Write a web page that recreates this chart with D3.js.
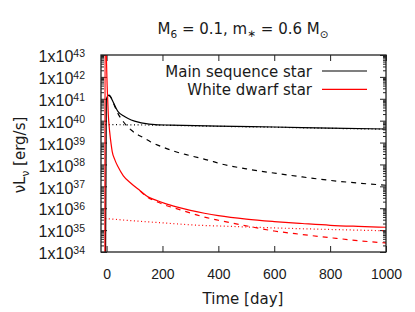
<!DOCTYPE html>
<html>
<head>
<meta charset="utf-8">
<script src="https://cdn.jsdelivr.net/npm/d3@7"></script>
<style>
  body { margin: 0; background: #fff; }
  svg { display: block; font-family: "DejaVu Sans", sans-serif; }
</style>
</head>
<body>
<div id="chart"></div>
<script>
// Time axis (days) and luminosity ticks (erg/s)
const timeTicks = [0, 200, 400, 600, 800, 1000];
const lumExponents = [34, 35, 36, 37, 38, 39, 40, 41, 42, 43];

// Main sequence star: [time (day), nuL_nu (erg/s)]
const msTotal = [
  [-4, 1e33], [-1, 8.71e40], [4, 1.35e41], [9, 1.48e41], [15, 1.2e41],
  [23, 7.24e40], [41, 2.57e40], [60, 1.66e40], [77, 1.26e40], [100, 9.55e39],
  [124, 7.94e39], [184, 6.46e39], [230, 6.31e39], [400, 5.62e39],
  [600, 5.13e39], [800, 4.57e39], [1000, 4.17e39]
];
const msDashed = [
  [9, 1.48e41], [15, 1.17e41], [23, 7.0e40], [41, 2.1e40], [60, 8.91e39],
  [88, 3.72e39], [136, 1.55e39], [158, 1.07e39], [208, 5.75e38], [240, 4.07e38],
  [300, 2.51e38], [363, 1.58e38], [405, 1.1e38], [500, 6.31e37], [608, 3.89e37],
  [700, 2.69e37], [823, 1.74e37], [900, 1.41e37], [1000, 1.12e37]
];
const msDotted = [
  [-5, 6.61e39], [200, 6.17e39], [400, 5.5e39], [600, 5.01e39],
  [800, 4.47e39], [1000, 4.07e39]
];

// White dwarf star
const wdTotal = [
  [-6, 1e33], [-5.5, 1e45], [-2, 3.16e43], [2, 3.98e41], [6, 2.0e40],
  [11, 3.16e39], [16, 8.91e38], [20, 3.98e38], [30, 1.58e38], [41, 7.76e37],
  [60, 3.02e37], [88, 1.35e37], [120, 6.31e36], [148, 3.31e36], [180, 2.24e36],
  [208, 1.66e36], [250, 1.15e36], [300, 7.94e35], [350, 5.89e35], [400, 4.57e35],
  [500, 3.16e35], [600, 2.45e35], [700, 2.0e35], [800, 1.66e35], [900, 1.48e35],
  [1000, 1.35e35]
];
const wdDashed = [
  [120, 6.07e36], [148, 3.07e36], [180, 2.0e36], [208, 1.41e36], [250, 9.55e35],
  [300, 6.03e35], [340, 4.27e35], [400, 2.82e35], [490, 1.66e35], [600, 9.12e34],
  [700, 6.31e34], [810, 4.37e34], [900, 3.31e34], [1000, 2.57e34]
];
const wdDotted = [
  [-5, 3.4e35], [100, 2.63e35], [200, 2.14e35], [330, 1.66e35], [400, 1.55e35],
  [600, 1.26e35], [800, 1.07e35], [1000, 9.33e34]
];

const legendItems = [
  { label: "Main sequence star", color: "#000000" },
  { label: "White dwarf star", color: "#ff0000" }
];

(function () {
  const W = 415, H = 312;
  const plot = { left: 101, right: 386, top: 55, bottom: 252 };
  const textColor = "#1a1a1a";

  const svg = d3.select("#chart").append("svg")
    .attr("width", W)
    .attr("height", H);

  const x = d3.scaleLinear().domain([-20, 1000]).range([plot.left, plot.right]);
  const y = d3.scaleLog().domain([1e34, 1e43]).range([plot.bottom, plot.top]);

  const majorY = lumExponents.map(e => Math.pow(10, e));
  const minorY = y.ticks().filter(v => {
    const l = Math.log10(v);
    return Math.abs(l - Math.round(l)) > 1e-6;
  });

  // clip for curves
  svg.append("clipPath").attr("id", "plot-clip")
    .append("rect")
    .attr("x", plot.left).attr("y", plot.top)
    .attr("width", plot.right - plot.left)
    .attr("height", plot.bottom - plot.top);

  // ---- Axes (ticks point inward, like gnuplot) ----
  const axisColor = "#222";

  function styleAxis(g) {
    g.select(".domain").remove();
    g.selectAll(".tick line").attr("stroke", axisColor).attr("stroke-width", 1);
  }

  // minor y ticks, left and right
  svg.append("g")
    .attr("transform", `translate(${plot.left},0)`)
    .call(d3.axisLeft(y).tickValues(minorY).tickSize(-3).tickFormat(""))
    .call(styleAxis);
  svg.append("g")
    .attr("transform", `translate(${plot.right},0)`)
    .call(d3.axisRight(y).tickValues(minorY).tickSize(-3).tickFormat(""))
    .call(styleAxis);

  // major y ticks, left (with labels) and right
  const gYLeft = svg.append("g")
    .attr("transform", `translate(${plot.left},0)`)
    .call(d3.axisLeft(y).tickValues(majorY).tickSize(-6).tickPadding(16))
    .call(styleAxis);
  svg.append("g")
    .attr("transform", `translate(${plot.right},0)`)
    .call(d3.axisRight(y).tickValues(majorY).tickSize(-6).tickFormat(""))
    .call(styleAxis);

  gYLeft.selectAll(".tick text")
    .attr("fill", textColor)
    .style("font-size", "16px")
    .attr("dy", "0.42em")
    .text("1x10")
    .append("tspan")
    .attr("dy", "-0.5em")
    .style("font-size", "10.5px")
    .text(d => Math.round(Math.log10(d)));

  // x ticks, bottom (with labels) and top
  const gXBottom = svg.append("g")
    .attr("transform", `translate(0,${plot.bottom})`)
    .call(d3.axisBottom(x).tickValues(timeTicks).tickSize(-6).tickPadding(17)
      .tickFormat(d3.format("d")))
    .call(styleAxis);
  svg.append("g")
    .attr("transform", `translate(0,${plot.top})`)
    .call(d3.axisTop(x).tickValues(timeTicks).tickSize(-6).tickFormat(""))
    .call(styleAxis);

  gXBottom.selectAll(".tick text")
    .attr("fill", textColor)
    .style("font-size", "14px");

  // ---- Curves ----
  const line = d3.line()
    .x(d => x(d[0]))
    .y(d => y(d[1]))
    .curve(d3.curveMonotoneX);

  const curves = svg.append("g").attr("clip-path", "url(#plot-clip)");

  const series = [
    { data: msDotted, color: "#000", dash: "1,2.6" },
    { data: msDashed, color: "#000", dash: "5,5" },
    { data: wdDotted, color: "#ff0000", dash: "1,2.6" },
    { data: wdDashed, color: "#ff0000", dash: "5,5" },
    { data: msTotal, color: "#000", dash: null },
    { data: wdTotal, color: "#ff0000", dash: null }
  ];

  curves.selectAll("path")
    .data(series)
    .enter()
    .append("path")
    .attr("fill", "none")
    .attr("stroke", d => d.color)
    .attr("stroke-width", 1.2)
    .attr("stroke-dasharray", d => d.dash)
    .attr("d", d => line(d.data));

  // frame
  svg.append("rect")
    .attr("x", plot.left).attr("y", plot.top)
    .attr("width", plot.right - plot.left)
    .attr("height", plot.bottom - plot.top)
    .attr("fill", "none")
    .attr("stroke", axisColor)
    .attr("stroke-width", 1.3);

  // ---- Legend ----
  const legend = svg.append("g").attr("class", "legend");
  const rows = legend.selectAll("g")
    .data(legendItems)
    .enter()
    .append("g")
    .attr("transform", (d, i) => `translate(0,${71 + i * 18.3})`);

  rows.append("text")
    .attr("x", 312)
    .attr("y", 5.5)
    .attr("text-anchor", "end")
    .style("font-size", "15px")
    .attr("fill", textColor)
    .text(d => d.label);

  rows.append("line")
    .attr("x1", 322).attr("x2", 367)
    .attr("y1", 0).attr("y2", 0)
    .attr("stroke", d => d.color)
    .attr("stroke-width", 1.2);

  // ---- Title ----
  const title = svg.append("text")
    .attr("x", 243)
    .attr("y", 34)
    .attr("text-anchor", "middle")
    .style("font-size", "15px")
    .attr("fill", textColor);
  title.append("tspan").text("M");
  title.append("tspan").attr("dy", 4).style("font-size", "10.5px").text("6");
  title.append("tspan").attr("dy", -4).text(" = 0.1, m");
  title.append("tspan").attr("dy", 3).style("font-size", "10.5px").text("\u2217");
  title.append("tspan").attr("dy", -3).text(" = 0.6 M");
  title.append("tspan").attr("dy", 4).style("font-size", "10.5px").text("\u2299");

  // ---- Axis labels ----
  svg.append("text")
    .attr("x", 243)
    .attr("y", 304)
    .attr("text-anchor", "middle")
    .style("font-size", "15px")
    .attr("fill", textColor)
    .text("Time [day]");

  const yLabel = svg.append("text")
    .attr("transform", "translate(24.5,155) rotate(-90)")
    .attr("text-anchor", "middle")
    .style("font-size", "15px")
    .attr("fill", textColor);
  yLabel.append("tspan").text("\u03bdL");
  yLabel.append("tspan").attr("dy", 4).style("font-size", "10.5px").text("\u03bd");
  yLabel.append("tspan").attr("dy", -4).text(" [erg/s]");
})();
</script>
</body>
</html>
